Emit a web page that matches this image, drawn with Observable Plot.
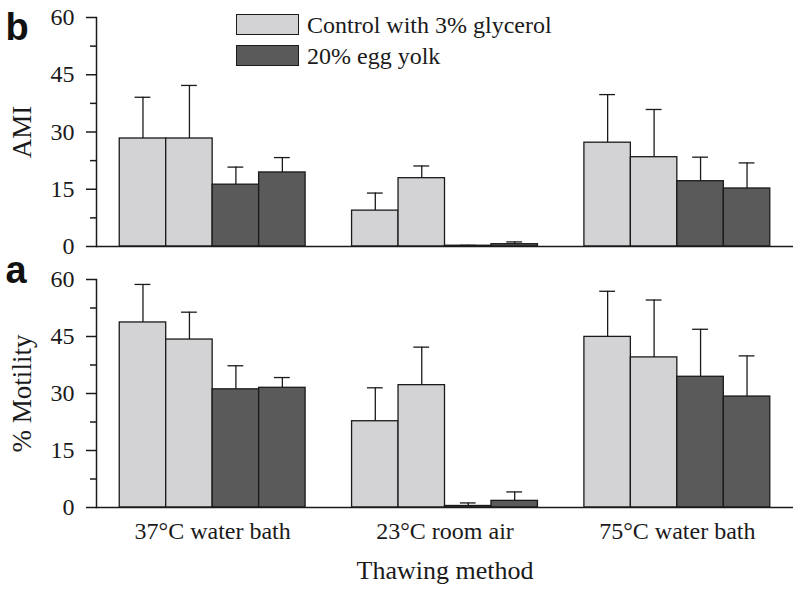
<!DOCTYPE html>
<html>
<head>
<meta charset="utf-8">
<script src="https://cdn.jsdelivr.net/npm/d3@7"></script>
<script src="https://cdn.jsdelivr.net/npm/@observablehq/plot@0.6"></script>
<style>
  html, body { margin: 0; padding: 0; background: #fff; }
  #wrap { position: relative; width: 800px; height: 593px; font-family: "Liberation Serif", serif; color: #1a1a1a; }
  #wrap svg { display: block; }
  .leg { position: absolute; display: flex; align-items: center; font-size: 24px; line-height: 24px; }
  .sw { width: 61px; height: 19px; border: 1px solid #1a1a1a; margin-right: 8px; }
</style>
</head>
<body>
<div id="wrap"></div>
<script>
// ---- data ----
const methods = ["37°C water bath", "23°C room air", "75°C water bath"];
const seriesNames = ["Control with 3% glycerol", "Control with 3% glycerol", "20% egg yolk", "20% egg yolk"];
const legendNames = ["Control with 3% glycerol", "20% egg yolk"];
const yTicks = [0, 15, 30, 45, 60];
const yMinorTicks = [7.5, 22.5, 37.5, 52.5];

// AMI (panel b): means and upper error (SD) per method x 4 bars
const amiMean = [
  [28.3, 28.3, 16.2, 19.4],
  [9.4, 17.9, 0.2, 0.6],
  [27.2, 23.4, 17.1, 15.2]
];
const amiErr = [
  [10.8, 13.9, 4.6, 3.9],
  [4.6, 3.2, 0.1, 0.6],
  [12.6, 12.5, 6.3, 6.7]
];

// % Motility (panel a)
const motMean = [
  [48.7, 44.2, 31.1, 31.5],
  [22.7, 32.2, 0.4, 1.75],
  [44.9, 39.5, 34.4, 29.2]
];
const motErr = [
  [10.0, 7.2, 6.2, 2.7],
  [8.8, 10.0, 0.8, 2.35],
  [12.0, 15.1, 12.5, 10.7]
];

const colors = ["#d3d3d5", "#5a5a5a"];
const ink = "#1a1a1a";

function rowsFrom(means, errs) {
  const rows = [];
  methods.forEach((m, i) => {
    seriesNames.forEach((s, j) => {
      rows.push({method: m, series: s, pos: i * 5 + j, value: means[i][j], err: errs[i][j]});
    });
  });
  return rows;
}

function panel({means, errs, height, marginTop, marginBottom, yLabel, letter, letterDy, bottomLabels}) {
  const rows = rowsFrom(means, errs);
  const marks = [
    Plot.rectY(rows, {x1: "pos", x2: d => d.pos + 1, y1: 0, y2: "value", fill: "series", stroke: ink, strokeWidth: 1.3}),
    Plot.ruleX(rows, {x: d => d.pos + 0.5, y1: "value", y2: d => d.value + d.err, stroke: ink, strokeWidth: 1.3}),
    Plot.ruleY(rows, {x1: d => d.pos + 0.5 - 0.17, x2: d => d.pos + 0.5 + 0.17, y: d => d.value + d.err, stroke: ink, strokeWidth: 1.3}),
    Plot.ruleY([0], {stroke: ink, strokeWidth: 1.5}),
    Plot.frame({anchor: "left", stroke: ink, strokeWidth: 1.5}),
    Plot.axisY({ticks: yTicks, tickSize: 10, tickPadding: 12, fontSize: 24, label: null, stroke: ink, strokeWidth: 1.5, tickFormat: d => String(d)}),
    Plot.axisY({ticks: yMinorTicks, tickSize: 6, label: null, stroke: ink, strokeWidth: 1.5, tickFormat: () => ""}),
    Plot.text([yLabel], {frameAnchor: "left", textAnchor: "middle", lineAnchor: "middle", dx: -74, rotate: -90, fontSize: 27, fill: ink}),
    Plot.text([letter], {frameAnchor: "top-left", dx: -91, dy: letterDy, textAnchor: "start", lineAnchor: "middle", fontSize: 38, fontWeight: "bold", fontFamily: "Liberation Sans, Arial, sans-serif", fill: "#111"})
  ];
  if (bottomLabels) {
    marks.push(Plot.text(methods, {x: (d, i) => i * 5 + 2, frameAnchor: "bottom", lineAnchor: "middle", dy: 24, fontSize: 24, fill: ink}));
    marks.push(Plot.text(["Thawing method"], {frameAnchor: "bottom", lineAnchor: "middle", textAnchor: "middle", dy: 63, fontSize: 26, fill: ink}));
  }
  return Plot.plot({
    width: 800,
    height,
    marginLeft: 96,
    marginRight: 7,
    marginTop,
    marginBottom,
    x: {type: "linear", domain: [-0.5, 14.5], axis: null},
    y: {domain: [0, 60], axis: null, label: null},
    color: {domain: legendNames, range: colors},
    style: {fontFamily: "Liberation Serif, serif", fontSize: "24px", color: ink, background: "transparent", overflow: "visible"},
    marks
  });
}

const wrap = document.getElementById("wrap");
wrap.appendChild(panel({means: amiMean, errs: amiErr, height: 250, marginTop: 17, marginBottom: 4, yLabel: "AMI", letter: "b", letterDy: 10.8, bottomLabels: false}));
wrap.appendChild(panel({means: motMean, errs: motErr, height: 343, marginTop: 29, marginBottom: 86, yLabel: "% Motility", letter: "a", letterDy: -8.2, bottomLabels: true}));

// legend (HTML, placed over the top panel)
legendNames.forEach((name, k) => {
  const item = document.createElement("div");
  item.className = "leg";
  item.style.left = "236px";
  item.style.top = (14 + k * 31) + "px";
  item.style.height = "21px";
  const sw = document.createElement("div");
  sw.className = "sw";
  sw.style.background = colors[k];
  const label = document.createElement("span");
  label.textContent = name;
  item.appendChild(sw);
  item.appendChild(label);
  wrap.appendChild(item);
});
</script>
</body>
</html>
